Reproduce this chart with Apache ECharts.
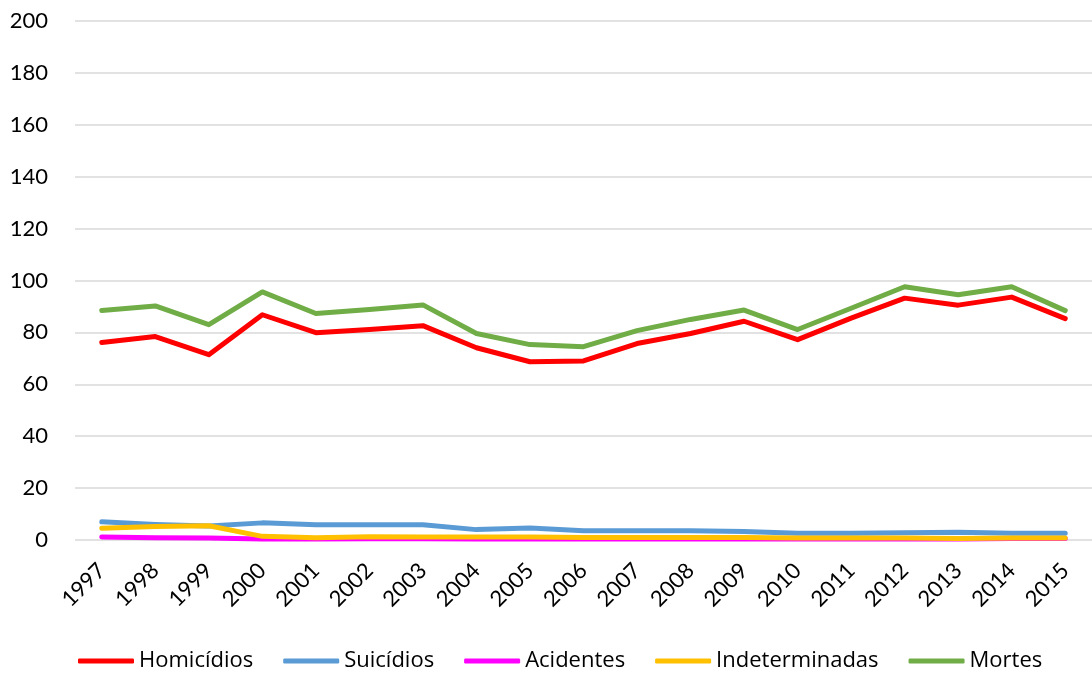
<!DOCTYPE html>
<html>
<head>
<meta charset="utf-8">
<script src="https://cdn.jsdelivr.net/npm/echarts@6/dist/echarts.min.js"></script>
<style>
    html, body { margin: 0; padding: 0; background: #fff; }
    #chart { width: 1092px; height: 673px; }
</style>
</head>
<body>
<div id="chart"></div>
<script>
var years = ['1997', '1998', '1999', '2000', '2001', '2002', '2003', '2004', '2005', '2006',
    '2007', '2008', '2009', '2010', '2011', '2012', '2013', '2014', '2015'];
var homicidios = [76.1, 78.4, 71.4, 86.8, 79.9, 81.1, 82.6, 74.1, 68.7, 69.0, 75.7, 79.6, 84.3, 77.2, 85.5, 93.2, 90.5, 93.6, 85.3];
var suicidios = [7.0, 6.0, 5.4, 6.6, 5.9, 5.9, 5.9, 4.0, 4.6, 3.6, 3.6, 3.6, 3.3, 2.6, 2.6, 2.8, 3.0, 2.6, 2.6];
var acidentes = [1.2, 0.9, 0.8, 0.4, 0.4, 0.5, 0.5, 0.4, 0.4, 0.4, 0.4, 0.4, 0.4, 0.4, 0.4, 0.4, 0.4, 0.6, 0.6];
var indeterminadas = [4.5, 5.2, 5.5, 1.4, 0.9, 1.3, 1.2, 1.2, 1.2, 1.0, 1.0, 1.0, 1.0, 0.8, 0.8, 0.8, 0.6, 0.8, 0.8];
var mortes = [88.4, 90.2, 83.0, 95.6, 87.3, 88.8, 90.6, 79.6, 75.3, 74.5, 80.7, 85.0, 88.6, 81.1, 89.3, 97.6, 94.5, 97.6, 88.4];

var font = 'Lato, "Open Sans", sans-serif';

function line(name, data, color) {
    return {
        name: name,
        type: 'line',
        data: data,
        symbol: 'none',
        color: color,
        lineStyle: { width: 5, color: color, cap: 'round', join: 'round' }
    };
}

var chartDom = document.getElementById('chart');
var myChart = echarts.init(chartDom);
var option;

option = {
    animation: false,
    textStyle: { fontFamily: font },
    grid: { left: 75, right: 0, top: 21, bottom: 133, containLabel: false },
    xAxis: {
        type: 'category',
        data: years,
        boundaryGap: true,
        axisLine: { show: false },
        axisTick: { show: false },
        axisLabel: {
            rotate: 45,
            fontSize: 22,
            color: '#000',
            fontFamily: font,
            margin: 27
        }
    },
    yAxis: {
        type: 'value',
        min: 0,
        max: 200,
        interval: 20,
        axisLine: { show: false },
        axisTick: { show: false },
        axisLabel: { fontSize: 22, color: '#000', fontFamily: font, margin: 27 },
        splitLine: { lineStyle: { color: '#d9d9d9', width: 1.5 } }
    },
    legend: {
        top: 645,
        left: 73,
        itemWidth: 56,
        itemHeight: 5,
        itemGap: 30,
        icon: 'roundRect',
        textStyle: { fontSize: 22, color: '#000', fontFamily: '"Open Sans", sans-serif' },
        data: ['Homicídios', 'Suicídios', 'Acidentes', 'Indeterminadas', 'Mortes']
    },
    series: [
        line('Homicídios', homicidios, '#ff0000'),
        line('Suicídios', suicidios, '#5b9bd5'),
        line('Acidentes', acidentes, '#ff00ff'),
        line('Indeterminadas', indeterminadas, '#ffc000'),
        line('Mortes', mortes, '#70ad47')
    ]
};

myChart.setOption(option);
</script>
</body>
</html>
